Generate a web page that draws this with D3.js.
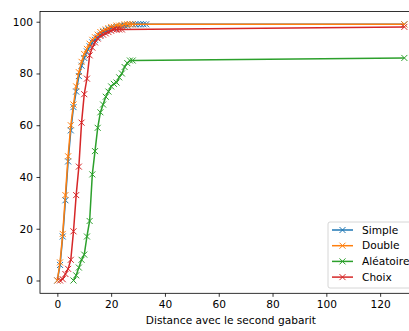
<!DOCTYPE html>
<html>
<head>
<meta charset="utf-8">
<script src="https://cdn.jsdelivr.net/npm/d3@7"></script>
<style>
  body { margin: 0; background: #fff; }
  svg { display: block; font-family: "DejaVu Sans", sans-serif; }
</style>
</head>
<body>
<svg id="chart" width="409" height="331"></svg>
<script>
// series data (x = distance, y = %)
let simpleX = [0,1,2,3,4,5,6,7,8,9,10,11,12,13,14,15,16,17,18,19,20,21,22,23,24,25,26,27,28,29,30,31,32,33,129];
let simpleY = [0,6,17,31,46,58,67,73,79,83,86,88.5,90.5,92,93,94,95,96,96.5,97,97.5,97.5,98,98,98.5,98.5,98.5,99,99,99,99,99,99,99,99];

let doubleX = [0,1,2,3,4,5,6,7,8,9,10,11,12,13,14,15,16,17,18,19,20,21,22,23,24,25,26,27,28,129];
let doubleY = [0,7,18,33,48,60,68,75,80.5,84.5,87.5,89.5,91.5,93,94,95,96,96.5,97,97.5,98,98,98.5,98.5,98.5,99,99,99,99,99];

let aleatoireX = [6,7,8,9,10,11,12,13,14,15,16,17,18,19,20,21,22,23,24,25,26,27,28,129];
let aleatoireY = [0,2,5,8,10,17,23,41,50,59,65,68,71,73,75,76,76.5,78.5,80,82.5,84,85,85,86];

let choixX = [1,2,3,4,5,6,7,8,9,10,11,12,13,14,15,16,17,18,19,20,21,22,23,24,129];
let choixY = [0,0.5,2.5,4.5,8,19,33,44,61,72,78,87,90,92,93.5,94.5,95,95.5,96,96.5,97,97,97,97,98];

let seriesNames = ["Simple", "Double", "Aléatoire", "Choix"];
let seriesColors = ["#1f77b4", "#ff7f0e", "#2ca02c", "#d62728"];
let xTicks = [0, 20, 40, 60, 80, 100, 120];
let yTicks = [0, 20, 40, 60, 80, 100];
let xLabel = "Distance avec le second gabarit";

let series = [
    {name: seriesNames[0], color: seriesColors[0], xs: simpleX, ys: simpleY},
    {name: seriesNames[1], color: seriesColors[1], xs: doubleX, ys: doubleY},
    {name: seriesNames[2], color: seriesColors[2], xs: aleatoireX, ys: aleatoireY},
    {name: seriesNames[3], color: seriesColors[3], xs: choixX, ys: choixY}
];

let svg = d3.select("#chart");
let plotLeft = 40, plotRight = 421.7, plotTop = 11.5, plotBottom = 293.3;
let fontSize = "10.6px";

let xScale = d3.scaleLinear().domain([-6.45, 135.45]).range([plotLeft, plotRight]);
let yScale = d3.scaleLinear().domain([-4.95, 103.95]).range([plotBottom, plotTop]);

// axes
let xAxis = svg.append("g")
    .attr("transform", "translate(0," + plotBottom + ")")
    .call(d3.axisBottom(xScale).tickValues(xTicks).tickSizeOuter(0).tickSize(3.5).tickPadding(3.5));
let yAxis = svg.append("g")
    .attr("transform", "translate(" + plotLeft + ",0)")
    .call(d3.axisLeft(yScale).tickValues(yTicks).tickSizeOuter(0).tickSize(3.5).tickPadding(3.5));

[xAxis, yAxis].forEach(function(ax) {
    ax.select(".domain").remove();
    ax.selectAll("line").attr("stroke", "#000").attr("stroke-width", 0.8);
    ax.selectAll("text")
        .style("font-family", "DejaVu Sans")
        .style("font-size", fontSize)
        .attr("fill", "#000");
});

// lines and markers
let line = d3.line()
    .x(function(d) { return xScale(d[0]); })
    .y(function(d) { return yScale(d[1]); });

function crossPath(cx, cy) {
    return "M" + (cx - 3) + "," + (cy - 3) + "L" + (cx + 3) + "," + (cy + 3) +
           "M" + (cx - 3) + "," + (cy + 3) + "L" + (cx + 3) + "," + (cy - 3);
}

series.forEach(function(s) {
    let pts = s.xs.map(function(x, i) { return [x, s.ys[i]]; });
    svg.append("path")
        .datum(pts)
        .attr("d", line)
        .attr("fill", "none")
        .attr("stroke", s.color)
        .attr("stroke-width", 1.5)
        .attr("stroke-linejoin", "round");
    svg.selectAll(null)
        .data(pts)
        .enter()
        .append("path")
        .attr("d", function(d) { return crossPath(xScale(d[0]), yScale(d[1])); })
        .attr("stroke", s.color)
        .attr("stroke-width", 1)
        .attr("fill", "none");
});

// frame
svg.append("rect")
    .attr("x", plotLeft).attr("y", plotTop)
    .attr("width", plotRight - plotLeft).attr("height", plotBottom - plotTop)
    .attr("fill", "none")
    .attr("stroke", "#000")
    .attr("stroke-width", 0.8);

// x label
svg.append("text")
    .attr("x", (plotLeft + plotRight) / 2)
    .attr("y", 324)
    .attr("text-anchor", "middle")
    .style("font-size", fontSize)
    .text(xLabel);

// legend
let legX = 328, legY = 222, rowH = 15.7;
let legend = svg.append("g");
legend.append("rect")
    .attr("x", legX).attr("y", legY)
    .attr("width", 90).attr("height", 66)
    .attr("rx", 2)
    .attr("fill", "#fff").attr("fill-opacity", 0.8)
    .attr("stroke", "#ccc").attr("stroke-width", 0.8);

series.forEach(function(s, i) {
    let cy = legY + 8 + i * rowH;
    legend.append("line")
        .attr("x1", legX + 4).attr("x2", legX + 25)
        .attr("y1", cy).attr("y2", cy)
        .attr("stroke", s.color).attr("stroke-width", 1.5);
    legend.append("path")
        .attr("d", crossPath(legX + 14.5, cy))
        .attr("stroke", s.color).attr("stroke-width", 1);
    legend.append("text")
        .attr("x", legX + 34)
        .attr("y", cy)
        .attr("dy", "0.35em")
        .style("font-size", fontSize)
        .text(s.name);
});
</script>
</body>
</html>
